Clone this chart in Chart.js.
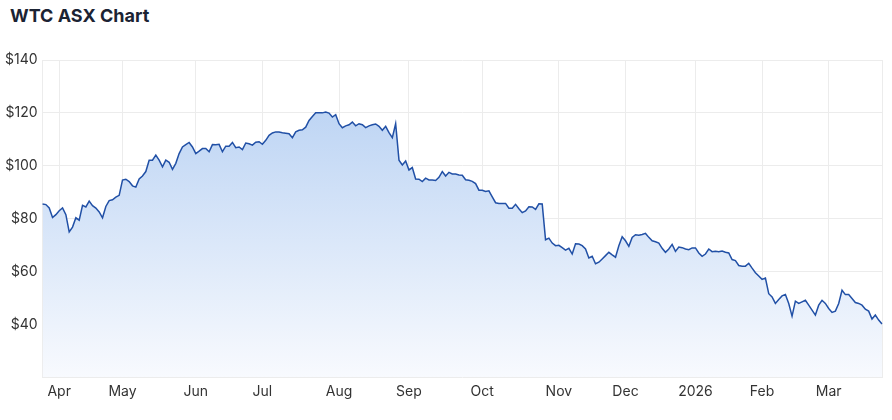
<!DOCTYPE html>
<html>
<head>
<meta charset="utf-8">
<script src="https://cdn.jsdelivr.net/npm/chart.js@4.4.1/dist/chart.umd.min.js"></script>
<style>
  body { margin: 0; background: #fff; font-family: Inter, "Liberation Sans", sans-serif; }
  #title { position: absolute; left: 10px; top: 5px; font-size: 18px; font-weight: 700; color: #1b2333; }
  #wrap { position: absolute; left: 0; top: 40px; width: 892px; height: 380px; }
</style>
</head>
<body>
<div id="title">WTC ASX Chart</div>
<div id="wrap"><canvas id="chart"></canvas></div>
<script>
// month label shown on the axis, and number of trading days in each (first/last are partial)
const months = ['Mar', 'Apr', 'May', 'Jun', 'Jul', 'Aug', 'Sep', 'Oct', 'Nov', 'Dec', '2026', 'Feb', 'Mar'];
const tradingDays = [5, 19, 22, 20, 23, 21, 22, 23, 20, 21, 20, 20, 17];

// daily close
const prices = [
  85.5, 85.3, 84, 80.4, 81.5, 83, 84, 81.5, 75, 76.8,
  80.3, 79.4, 85, 84.4, 86.6, 84.9, 84, 82.5, 80.3, 84.6,
  86.8, 87.1, 88.1, 88.8, 94.6, 94.9, 94, 92.4, 91.9, 95,
  96.1, 97.8, 102.1, 102.1, 104, 102.1, 99.6, 102.1, 101.3, 98.6,
  100.9, 104.6, 107.1, 108, 108.8, 107.1, 104.6, 105.5, 106.5, 106.5,
  105.3, 108, 107.9, 108.1, 105.3, 107.4, 107.4, 108.8, 106.8, 107.1,
  106.1, 108.6, 108.3, 107.8, 108.9, 109.1, 108.1, 109.6, 111.5, 112.4,
  112.8, 112.8, 112.5, 112.3, 112.1, 110.6, 112.8, 113.4, 113.6, 114.6,
  117.1, 118.6, 120, 120, 120, 120.3, 119.9, 118.4, 119.3, 115.9,
  114.4, 115.1, 115.5, 116.5, 115.1, 115.9, 115.5, 114.4, 115.1, 115.5,
  115.8, 114.9, 113.4, 114.9, 112.5, 110.6, 115.9, 102.1, 100.3, 101.8,
  98.4, 99.3, 95, 94.9, 94, 95.3, 94.6, 94.6, 94.4, 95.6,
  97.8, 96.1, 97.5, 96.9, 96.9, 96.5, 96.4, 94.7, 94.5, 94.1,
  93.25, 90.75, 90.75, 90.25, 90.5, 88.25, 86, 85.75, 85.75, 85.75,
  83.9, 83.9, 85.4, 83.75, 82.25, 82.9, 84.5, 84.4, 83.5, 85.6,
  85.5, 72, 72.6, 70.75, 69.75, 69.9, 69, 68.1, 68.75, 66.6,
  70.5, 70.4, 69.75, 68.5, 65.1, 65.75, 62.9, 63.5, 64.75, 66,
  67.25, 66.25, 65.4, 69.75, 73.1, 71.6, 69.5, 72.9, 73.9, 73.75,
  74, 74.4, 72.9, 71.6, 71.25, 70.75, 68.75, 67.25, 68.5, 70.25,
  67.6, 69.25, 69, 68.5, 68.25, 68.9, 68.9, 67, 65.75, 66.6,
  68.5, 67.5, 67.6, 67.5, 67.75, 67.25, 67, 64.5, 64.1, 62.25,
  62, 62, 63.1, 61.25, 59.5, 58.25, 57, 57.5, 51.6, 50.4,
  47.9, 49.4, 50.75, 51.25, 47.9, 43.1, 48.75, 47.9, 48.5, 49.1,
  47.25, 45.4, 43.5, 47.25, 49.1, 47.9, 46, 44.5, 45, 47.9,
  52.9, 51.25, 51.25, 49.75, 48.25, 47.9, 47.25, 45.75, 45, 42,
  43.5, 41.6, 40.1
];

const yTicks = [40, 60, 80, 100, 120, 140];

// one category per trading day, labelled with its month
const labels = [];
months.forEach((m, i) => {
  for (let d = 0; d < tradingDays[i]; d++) labels.push(m);
});
const monthStarts = labels.map((m, i) => (i > 0 && m !== labels[i - 1]) ? i : -1).filter(i => i > 0);

const gridColor = '#ececec';
const tickFont = { family: 'Inter', size: 14 };

const ctx = document.getElementById('chart').getContext('2d');
const chart = new Chart(ctx, {
  type: 'line',
  data: {
    labels: labels,
    datasets: [{
      data: prices,
      borderColor: '#2150a6',
      borderWidth: 1.5,
      pointRadius: 0,
      tension: 0,
      fill: 'start',
      backgroundColor: (c) => {
        const area = c.chart.chartArea;
        if (!area) return '#c9dcf5';
        const g = c.chart.ctx.createLinearGradient(0, area.top, 0, area.bottom);
        g.addColorStop(0, '#b3cef2');
        g.addColorStop(1, '#f8fafe');
        return g;
      }
    }]
  },
  options: {
    responsive: true,
    maintainAspectRatio: false,
    animation: false,
    layout: { padding: { left: 0, right: 10, top: 20, bottom: 14 } },
    plugins: { legend: { display: false }, tooltip: { enabled: false } },
    scales: {
      x: {
        afterBuildTicks: (axis) => {
          axis.ticks = axis.ticks.filter(t => monthStarts.includes(t.value) || t.value === labels.length - 1);
        },
        ticks: {
          autoSkip: false,
          maxRotation: 0,
          padding: 6,
          color: '#333',
          font: tickFont,
          callback: (v) => monthStarts.includes(v) ? labels[v] : ''
        },
        grid: { color: gridColor, drawTicks: false },
        border: { color: gridColor }
      },
      y: {
        min: 20,
        max: 140,
        afterBuildTicks: (axis) => {
          axis.ticks = yTicks.map(v => ({ value: v }));
        },
        ticks: {
          padding: 5,
          color: '#333',
          font: tickFont,
          callback: (v) => '$' + v
        },
        grid: { color: gridColor, drawTicks: false },
        border: { color: gridColor }
      }
    }
  }
});
</script>
</body>
</html>
